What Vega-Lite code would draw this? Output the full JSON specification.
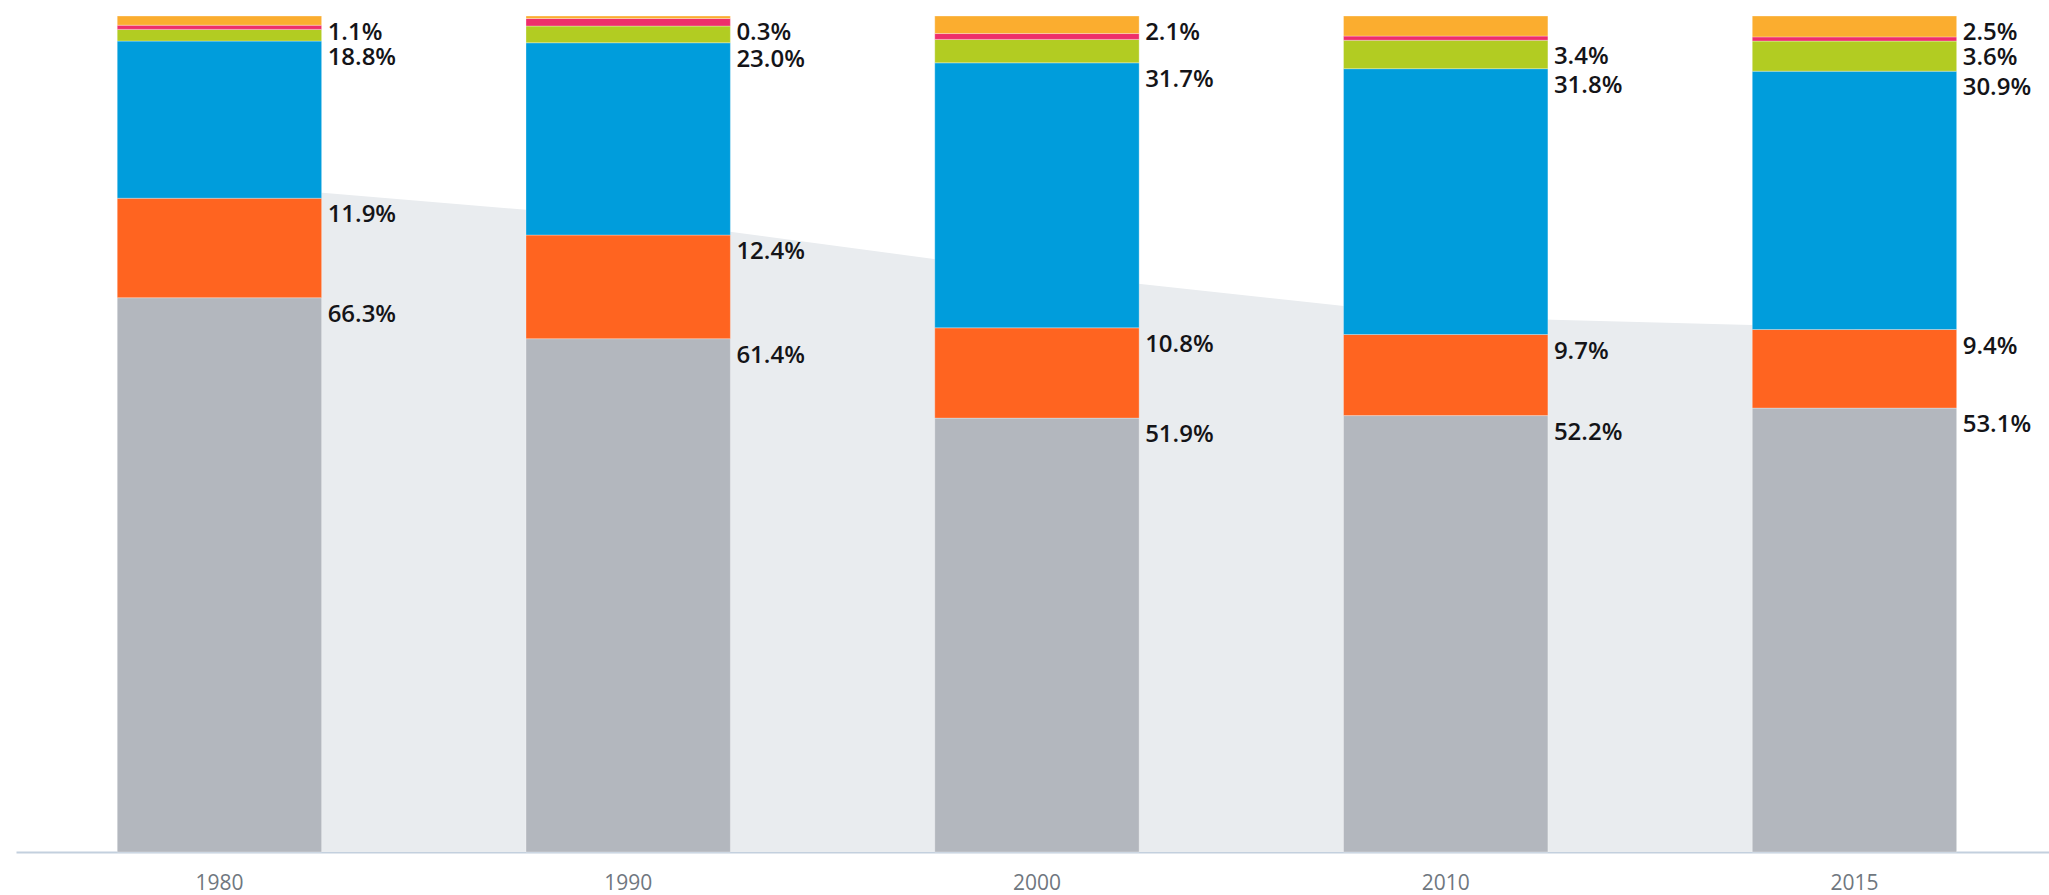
{
  "$schema": "https://vega.github.io/schema/vega-lite/v6.json",
  "width": 2033,
  "height": 836,
  "autosize": {"type": "none"},
  "padding": {"left": 16, "top": 16, "right": 0, "bottom": 43},
  "background": "white",
  "config": {"view": {"stroke": null}},
  "datasets": {
    "shares": [
      {"year": "1980", "series": "gray", "order": 1, "value": 66.3, "label": "66.3%"},
      {"year": "1980", "series": "orange", "order": 2, "value": 11.9, "label": "11.9%"},
      {"year": "1980", "series": "blue", "order": 3, "value": 18.8, "label": "18.8%"},
      {"year": "1980", "series": "green", "order": 4, "value": 1.4, "label": ""},
      {"year": "1980", "series": "pink", "order": 5, "value": 0.5, "label": ""},
      {"year": "1980", "series": "yellow", "order": 6, "value": 1.1, "label": "1.1%"},
      {"year": "1990", "series": "gray", "order": 1, "value": 61.4, "label": "61.4%"},
      {"year": "1990", "series": "orange", "order": 2, "value": 12.4, "label": "12.4%"},
      {"year": "1990", "series": "blue", "order": 3, "value": 23.0, "label": "23.0%"},
      {"year": "1990", "series": "green", "order": 4, "value": 2.0, "label": ""},
      {"year": "1990", "series": "pink", "order": 5, "value": 0.9, "label": ""},
      {"year": "1990", "series": "yellow", "order": 6, "value": 0.3, "label": "0.3%"},
      {"year": "2000", "series": "gray", "order": 1, "value": 51.9, "label": "51.9%"},
      {"year": "2000", "series": "orange", "order": 2, "value": 10.8, "label": "10.8%"},
      {"year": "2000", "series": "blue", "order": 3, "value": 31.7, "label": "31.7%"},
      {"year": "2000", "series": "green", "order": 4, "value": 2.8, "label": ""},
      {"year": "2000", "series": "pink", "order": 5, "value": 0.7, "label": ""},
      {"year": "2000", "series": "yellow", "order": 6, "value": 2.1, "label": "2.1%"},
      {"year": "2010", "series": "gray", "order": 1, "value": 52.2, "label": "52.2%"},
      {"year": "2010", "series": "orange", "order": 2, "value": 9.7, "label": "9.7%"},
      {"year": "2010", "series": "blue", "order": 3, "value": 31.8, "label": "31.8%"},
      {"year": "2010", "series": "green", "order": 4, "value": 3.4, "label": "3.4%"},
      {"year": "2010", "series": "pink", "order": 5, "value": 0.5, "label": ""},
      {"year": "2010", "series": "yellow", "order": 6, "value": 2.4, "label": ""},
      {"year": "2015", "series": "gray", "order": 1, "value": 53.1, "label": "53.1%"},
      {"year": "2015", "series": "orange", "order": 2, "value": 9.4, "label": "9.4%"},
      {"year": "2015", "series": "blue", "order": 3, "value": 30.9, "label": "30.9%"},
      {"year": "2015", "series": "green", "order": 4, "value": 3.6, "label": "3.6%"},
      {"year": "2015", "series": "pink", "order": 5, "value": 0.5, "label": ""},
      {"year": "2015", "series": "yellow", "order": 6, "value": 2.5, "label": "2.5%"}
    ],
    "backdrop": [
      {"year": "1980", "value": 79.9},
      {"year": "1990", "value": 75.8},
      {"year": "2000", "value": 69.3},
      {"year": "2010", "value": 64.0},
      {"year": "2015", "value": 62.7}
    ]
  },
  "encoding": {
    "x": {
      "field": "year",
      "type": "ordinal",
      "scale": {"paddingInner": 0.5, "paddingOuter": 0.2368, "align": 0.523},
      "axis": {
        "title": null,
        "ticks": false,
        "grid": false,
        "labelAngle": 0,
        "labelFont": "Open Sans",
        "labelFontSize": 21,
        "labelColor": "#6f7780",
        "labelBaseline": "middle",
        "labelPadding": 31,
        "domainColor": "#c3d0de",
        "domainWidth": 2
      }
    }
  },
  "layer": [
    {
      "data": {"name": "backdrop"},
      "mark": {"type": "area", "color": "#e9ecef", "opacity": 1},
      "encoding": {
        "y": {"field": "value", "type": "quantitative", "scale": {"domain": [0, 100], "nice": false, "zero": true}, "axis": null}
      }
    },
    {
      "data": {"name": "shares"},
      "transform": [
        {"stack": "value", "groupby": ["year"], "sort": [{"field": "order", "order": "ascending"}], "as": ["v0", "v1"]}
      ],
      "layer": [
        {
          "mark": {"type": "bar", "stroke": "white", "strokeWidth": 0.6, "strokeOpacity": 0.5},
          "encoding": {
            "y": {"field": "v0", "type": "quantitative", "scale": {"domain": [0, 100], "nice": false}, "axis": null},
            "y2": {"field": "v1"},
            "color": {
              "field": "series",
              "type": "nominal",
              "scale": {
                "domain": ["gray", "orange", "blue", "green", "pink", "yellow"],
                "range": ["#b3b7be", "#ff6420", "#009ddc", "#b2cc22", "#ee2e6b", "#fbad2f"]
              },
              "legend": null
            }
          }
        },
        {
          "transform": [{"filter": "datum.label != ''"}],
          "mark": {
            "type": "text",
            "align": "left",
            "baseline": "middle",
            "dx": 6,
            "dy": 17,
            "font": "Open Sans",
            "fontSize": 24,
            "fontWeight": 600,
            "color": "#141418"
          },
          "encoding": {
            "x": {"field": "year", "type": "ordinal", "bandPosition": 1},
            "y": {"field": "v1", "type": "quantitative"},
            "text": {"field": "label", "type": "nominal"}
          }
        }
      ]
    }
  ]
}
